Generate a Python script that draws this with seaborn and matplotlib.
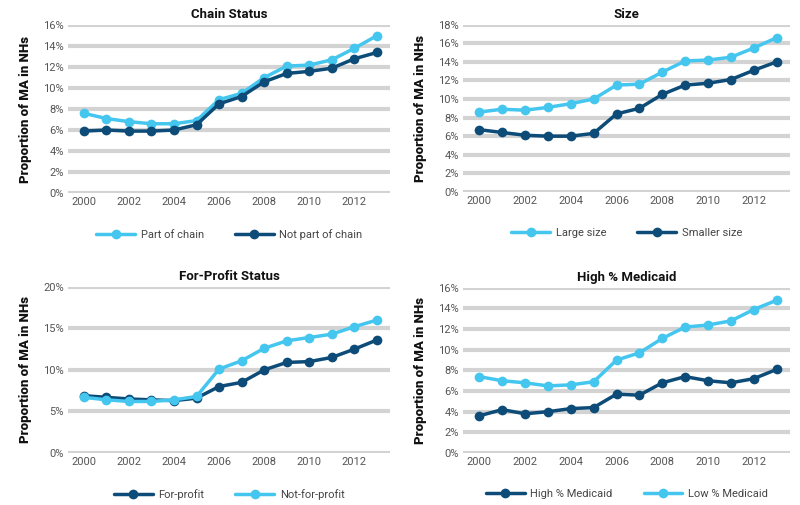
import numpy as np
import pandas as pd
import matplotlib
matplotlib.use("Agg")
import matplotlib.pyplot as plt
import seaborn as sns
from matplotlib.ticker import FuncFormatter, MultipleLocator

years = list(range(2000, 2014))

# Chain status
part_chain = [7.6, 7.1, 6.8, 6.6, 6.6, 6.9, 8.9, 9.5, 11.0, 12.1, 12.2, 12.7, 13.8, 15.0]
not_chain = [5.9, 6.0, 5.9, 5.9, 6.0, 6.5, 8.5, 9.2, 10.6, 11.4, 11.6, 11.9, 12.8, 13.4]

# Size
large_size = [8.6, 8.9, 8.8, 9.1, 9.5, 10.0, 11.5, 11.6, 12.9, 14.1, 14.2, 14.5, 15.5, 16.6]
smaller_size = [6.7, 6.4, 6.1, 6.0, 6.0, 6.3, 8.4, 9.0, 10.5, 11.5, 11.7, 12.1, 13.1, 14.0]

# For-profit status
for_profit = [6.9, 6.7, 6.5, 6.4, 6.3, 6.6, 8.0, 8.5, 10.0, 10.9, 11.0, 11.5, 12.5, 13.6]
not_for_profit = [6.7, 6.4, 6.2, 6.2, 6.4, 6.8, 10.1, 11.1, 12.6, 13.5, 13.9, 14.3, 15.2, 16.0]

# Medicaid
high_medicaid = [3.6, 4.2, 3.8, 4.0, 4.3, 4.4, 5.7, 5.6, 6.8, 7.4, 7.0, 6.8, 7.2, 8.1]
low_medicaid = [7.4, 7.0, 6.8, 6.5, 6.6, 6.9, 9.0, 9.7, 11.1, 12.2, 12.4, 12.8, 13.9, 14.8]

LIGHT = "#45c6ee"
DARK = "#0d4c78"

sns.set_theme(style="white")
plt.rcParams['font.family'] = ['Roboto', 'DejaVu Sans']

fig = plt.figure(figsize=(8, 5.05), dpi=100)

# (title, [(label, values, color)], ymax, ystep, axes rect)
panels = [
    ("Chain Status", [("Part of chain", part_chain, LIGHT), ("Not part of chain", not_chain, DARK)],
     16, 2, [0.085, 0.618, 0.403, 0.332]),
    ("Size", [("Large size", large_size, LIGHT), ("Smaller size", smaller_size, DARK)],
     18, 2, [0.579, 0.620, 0.409, 0.331]),
    ("For-Profit Status", [("For-profit", for_profit, DARK), ("Not-for-profit", not_for_profit, LIGHT)],
     20, 5, [0.085, 0.103, 0.403, 0.329]),
    ("High % Medicaid", [("High % Medicaid", high_medicaid, DARK), ("Low % Medicaid", low_medicaid, LIGHT)],
     16, 2, [0.579, 0.103, 0.409, 0.327]),
]

for title, series, ymax, ystep, rect in panels:
    ax = fig.add_axes(rect)
    rows = []
    for label, vals, color in series:
        for yr, v in zip(years, vals):
            rows.append({"year": yr, "value": v, "group": label})
    df = pd.DataFrame(rows)
    palette = {label: color for label, _, color in series}
    sns.lineplot(data=df, x="year", y="value", hue="group", palette=palette,
                 hue_order=[s[0] for s in series], marker="o", markersize=7,
                 markeredgewidth=0, linewidth=2.5, ax=ax)

    ax.set_ylim(0, ymax)
    ax.set_xlim(1999.3, 2013.6)
    ax.yaxis.set_major_locator(MultipleLocator(ystep))
    ax.yaxis.set_major_formatter(FuncFormatter(lambda v, p: f"{v:.0f}%"))
    ax.set_xticks(range(2000, 2013, 2))
    ax.grid(axis="y", color="#d3d3d3", linewidth=3)
    ax.set_axisbelow(True)
    for s in ax.spines.values():
        s.set_visible(False)
    ax.tick_params(axis="both", length=0, labelsize=8, labelcolor="#555555", pad=3)
    ax.set_xlabel("")
    ax.set_ylabel("Proportion of MA in NHs", fontsize=9.5, fontweight="heavy", color="#111111", labelpad=8)
    ax.set_title(title, fontsize=9.5, fontweight="bold", color="#111111", pad=5)
    ax.legend(loc="upper center", bbox_to_anchor=(0.5, -0.155), ncol=2, frameon=False,
              fontsize=8, handlelength=3.5, columnspacing=2.8, handletextpad=0.5,
              labelcolor="#444444")

fig.savefig("out.png", dpi=100)
